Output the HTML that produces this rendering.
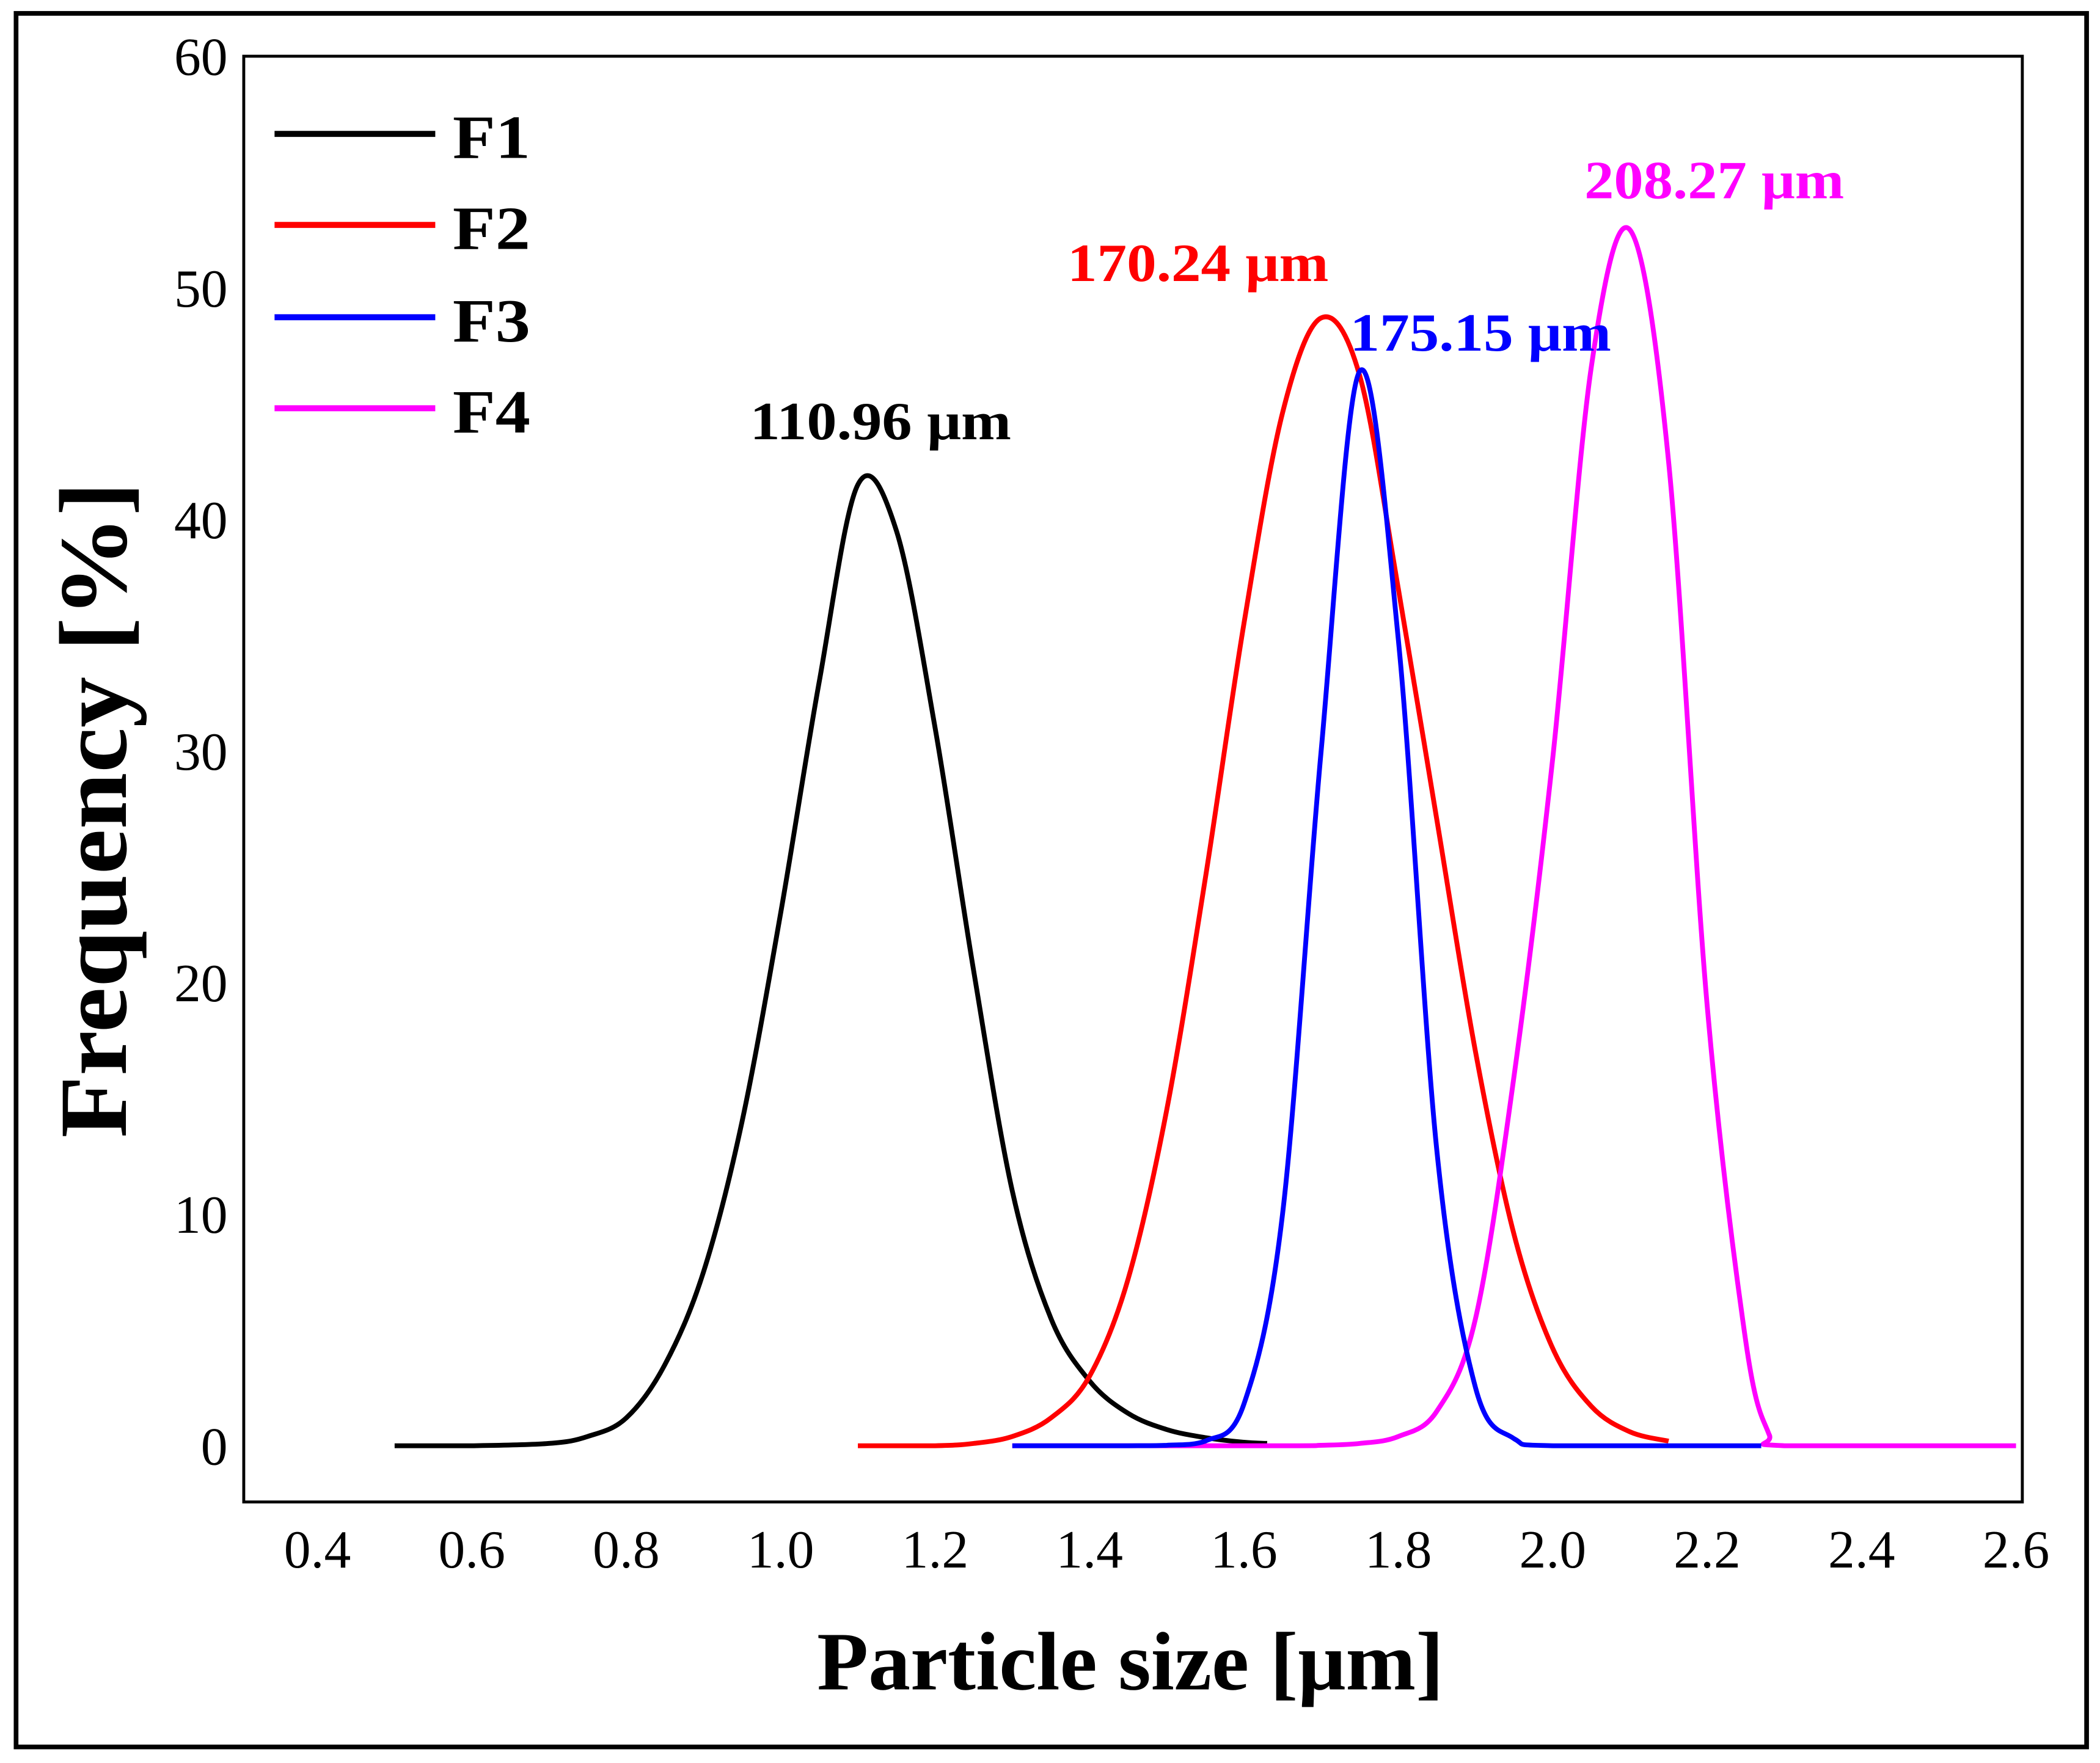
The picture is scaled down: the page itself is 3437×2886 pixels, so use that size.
<!DOCTYPE html>
<html><head><meta charset="utf-8">
<style>html,body{margin:0;padding:0;background:#fff}svg{display:block}</style>
</head><body>
<svg id="chart" xmlns="http://www.w3.org/2000/svg" width="3437" height="2886" viewBox="0 0 1568 1317" preserveAspectRatio="none" font-family="Liberation Serif, serif">
<rect x="12" y="10" width="1546" height="1295" fill="#fff" stroke="#000" stroke-width="3.5"/>
<rect x="182" y="42" width="1328" height="1080" fill="none" stroke="#000" stroke-width="2.2"/>
<g id="yticks" font-size="40" text-anchor="end"></g>
<g id="xticks" font-size="40" text-anchor="middle"></g>
<g id="series"></g>
<text transform="translate(94,605) rotate(-90)" font-size="72" font-weight="bold" text-anchor="middle" textLength="490" lengthAdjust="spacingAndGlyphs">Frequency [%]</text>
<text x="844" y="1262" font-size="62" font-weight="bold" text-anchor="middle" textLength="468" lengthAdjust="spacingAndGlyphs">Particle size [μm]</text>
<g font-size="46" font-weight="bold">
<line x1="205" y1="100" x2="325" y2="100" stroke="#000" stroke-width="4.5"/>
<text x="338" y="118" textLength="58" lengthAdjust="spacingAndGlyphs">F1</text>
<line x1="205" y1="168" x2="325" y2="168" stroke="#ff0000" stroke-width="4.5"/>
<text x="338" y="186" textLength="58" lengthAdjust="spacingAndGlyphs">F2</text>
<line x1="205" y1="237" x2="325" y2="237" stroke="#0000ff" stroke-width="4.5"/>
<text x="338" y="255" textLength="58" lengthAdjust="spacingAndGlyphs">F3</text>
<line x1="205" y1="305" x2="325" y2="305" stroke="#ff00ff" stroke-width="4.5"/>
<text x="338" y="323" textLength="58" lengthAdjust="spacingAndGlyphs">F4</text>
</g>
<g font-size="40" font-weight="bold">
<text x="560" y="328" fill="#000" textLength="195" lengthAdjust="spacingAndGlyphs">110.96 μm</text>
<text x="797" y="210" fill="#ff0000" textLength="195" lengthAdjust="spacingAndGlyphs">170.24 μm</text>
<text x="1008" y="262" fill="#0000ff" textLength="195" lengthAdjust="spacingAndGlyphs">175.15 μm</text>
<text x="1183" y="148" fill="#ff00ff" textLength="194" lengthAdjust="spacingAndGlyphs">208.27 μm</text>
</g>
</svg>
<script>
const yTicks = [0,10,20,30,40,50,60];
const xTicks = ["0.4","0.6","0.8","1.0","1.2","1.4","1.6","1.8","2.0","2.2","2.4","2.6"];
const f1X = [0.50,0.60,0.70,0.75,0.80,0.85,0.90,0.95,1.00,1.05,1.10,1.15,1.20,1.25,1.30,1.35,1.40,1.45,1.50,1.55,1.60,1.63];
const f1Y = [0,0,0.1,0.4,1.2,3.5,7.5,14,23,33,41.5,39.5,31,20.5,11,5.5,2.8,1.4,0.7,0.35,0.15,0.1];
const f2X = [1.10,1.20,1.25,1.30,1.35,1.40,1.45,1.50,1.55,1.60,1.65,1.70,1.75,1.80,1.85,1.90,1.95,2.00,2.05,2.10,2.15];
const f2Y = [0,0,0.1,0.4,1.2,3.0,7.2,14.5,24.5,35.5,44.6,48.7,46.2,37,27,17,9.1,4.2,1.7,0.6,0.2];
const f3X = [1.30,1.45,1.50,1.55,1.60,1.65,1.70,1.75,1.80,1.85,1.90,1.95,2.00,2.27];
const f3Y = [0,0,0.02,0.2,1.8,10,30,46.4,34.8,12.7,2.5,0.3,0,0];
const f4X = [1.30,1.65,1.70,1.75,1.80,1.85,1.90,1.95,2.00,2.05,2.10,2.15,2.20,2.25,2.28,2.30,2.60];
const f4Y = [0,0,0.02,0.1,0.4,1.5,5.5,16,29.7,46.6,52.5,42.5,19,4.5,0.5,0,0];

const xs = v => 237 + (v - 0.4) / 0.2 * 115.3;
const ys = v => 1080 - v * 17.3;
const NS = "http://www.w3.org/2000/svg";

const yg = document.getElementById('yticks');
yTicks.forEach(t => {
  const el = document.createElementNS(NS, 'text');
  
  
  el.setAttribute('x', 170);
  el.setAttribute('y', ys(t) + 14);
  el.textContent = t;
  yg.appendChild(el);
});
const xg = document.getElementById('xticks');
xTicks.forEach(t => {
  const el = document.createElementNS(NS, 'text');
  
  
  el.setAttribute('x', xs(parseFloat(t)));
  el.setAttribute('y', 1171);
  el.textContent = t;
  xg.appendChild(el);
});

function pathFor(X, Y) {
  const p = X.map((x, i) => [xs(x), ys(Y[i])]);
  let d = 'M' + p[0][0] + ',' + p[0][1];
  for (let i = 0; i < p.length - 1; i++) {
    const p0 = p[Math.max(i - 1, 0)], p1 = p[i], p2 = p[i + 1], p3 = p[Math.min(i + 2, p.length - 1)];
    let c1y = p1[1] + (p2[1] - p0[1]) / 6, c2y = p2[1] - (p3[1] - p1[1]) / 6;
    c1y = Math.min(c1y, 1080); c2y = Math.min(c2y, 1080);
    d += ' C' + (p1[0] + (p2[0] - p0[0]) / 6) + ',' + c1y + ' ' + (p2[0] - (p3[0] - p1[0]) / 6) + ',' + c2y + ' ' + p2[0] + ',' + p2[1];
  }
  return d;
}
const sg = document.getElementById('series');
[[f1X, f1Y, '#000000', 'series-f1'], [f2X, f2Y, '#ff0000', 'series-f2'], [f4X, f4Y, '#ff00ff', 'series-f4'], [f3X, f3Y, '#0000ff', 'series-f3']].forEach(s => {
  const el = document.createElementNS(NS, 'path');
  
  
  el.setAttribute('d', pathFor(s[0], s[1]));
  el.setAttribute('fill', 'none');
  el.setAttribute('stroke', s[2]);
  el.setAttribute('stroke-width', '3.6');
  sg.appendChild(el);
});
</script>
</body></html>
